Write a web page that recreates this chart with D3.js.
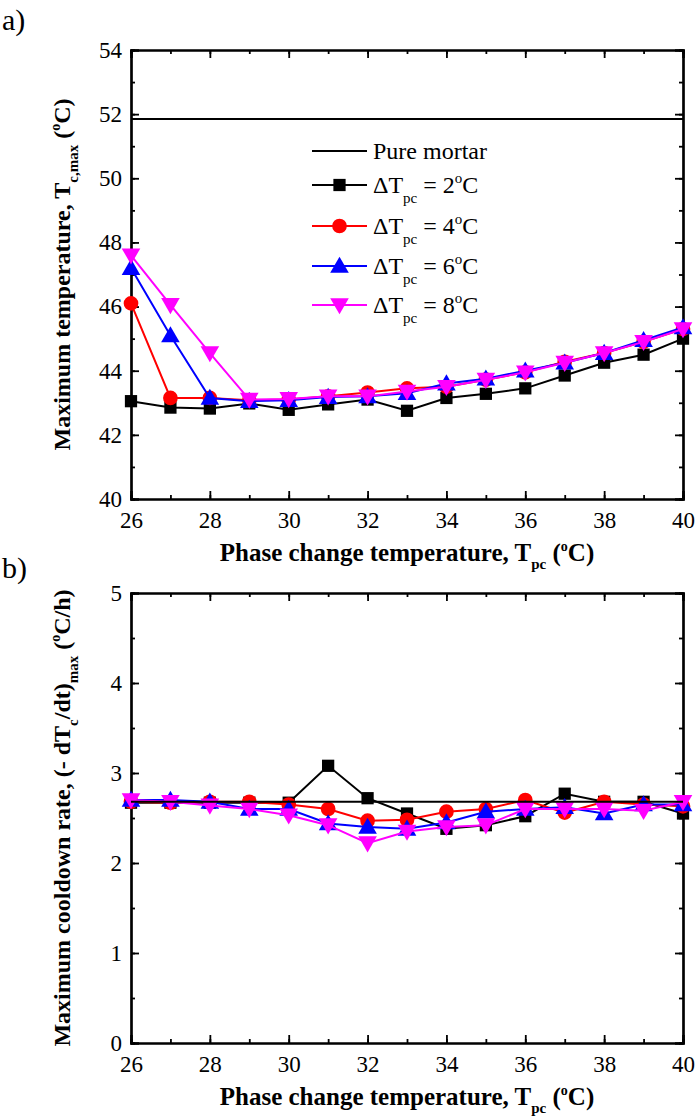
<!DOCTYPE html>
<html>
<head>
<meta charset="utf-8">
<script src="https://cdn.jsdelivr.net/npm/d3@7"></script>
<style>
  body { margin: 0; background: #fff; }
  svg { display: block; }
  text { font-family: "Liberation Serif", "DejaVu Serif", serif; fill: #000; }
</style>
</head>
<body>
<svg id="chart" width="696" height="1119"></svg>
<script>
// ---------- data ---------- //
var tpc = [26, 27, 28, 29, 30, 31, 32, 33, 34, 35, 36, 37, 38, 39, 40];
var xTicks = [26, 28, 30, 32, 34, 36, 38, 40];

// panel a) maximum temperature
var pureTmax = 51.85;
var tmax2 = [43.05, 42.85, 42.82, 42.98, 42.78, 42.95, 43.1, 42.75, 43.15, 43.28, 43.45, 43.85, 44.25, 44.5, 45.0];
var tmax4 = [46.1, 43.15, 43.15, 43.08, 43.1, 43.2, 43.32, 43.45, 43.5, 43.72, 43.95, 44.28, 44.55, 44.9, 45.3];
var tmax6 = [47.2, 45.1, 43.15, 43.05, 43.08, 43.18, 43.2, 43.3, 43.6, 43.75, 44.0, 44.25, 44.55, 44.95, 45.35];
var tmax8 = [47.6, 46.05, 44.55, 43.1, 43.12, 43.2, 43.2, 43.35, 43.5, 43.72, 43.95, 44.25, 44.55, 44.9, 45.3];
var tmaxTicks = [40, 42, 44, 46, 48, 50, 52, 54];

// panel b) maximum cooldown rate
var pureRate = 2.68;
var rate2 = [2.67, 2.67, 2.67, 2.67, 2.67, 3.08, 2.72, 2.55, 2.38, 2.42, 2.52, 2.77, 2.68, 2.68, 2.55];
var rate4 = [2.68, 2.67, 2.68, 2.68, 2.65, 2.6, 2.47, 2.48, 2.57, 2.6, 2.7, 2.56, 2.68, 2.65, 2.63];
var rate6 = [2.7, 2.7, 2.68, 2.6, 2.6, 2.44, 2.4, 2.38, 2.45, 2.57, 2.6, 2.62, 2.55, 2.65, 2.65];
var rate8 = [2.7, 2.68, 2.64, 2.6, 2.53, 2.42, 2.22, 2.35, 2.4, 2.42, 2.6, 2.6, 2.6, 2.58, 2.68];
var rateTicks = [0, 1, 2, 3, 4, 5];

var seriesNames = ["2", "4", "6", "8"];
var seriesColors = ["#000000", "#ff0000", "#0000ff", "#ff00ff"];
var seriesSymbols = [d3.symbolSquare, d3.symbolCircle, d3.symbolTriangle, d3.symbolTriangle];
var symbolSizes = [150, 170, 150, 150];
var symbolRotate = [0, 0, 0, 180];

var svg = d3.select("#chart");

var left = 131, right = 683;
var x = d3.scaleLinear().domain([26, 40]).range([left, right]);

// draws one panel
function drawPanel(cfg) {
	var y = d3.scaleLinear().domain(cfg.domain).range([cfg.bottom, cfg.top]);
	var g = svg.append("g");

	// minor ticks
	var xMinor = d3.range(26, 40.01, 1);
	var yMinor = d3.range(cfg.domain[0], cfg.domain[1] + 0.001, cfg.minor);

	// axes (ticks inward, mirrored)
	g.append("g").attr("transform", "translate(0," + cfg.bottom + ")")
		.call(d3.axisBottom(x).tickValues(xMinor).tickSize(-4).tickFormat(""));
	g.append("g").attr("transform", "translate(0," + cfg.bottom + ")")
		.call(d3.axisBottom(x).tickValues(xTicks).tickSize(-8).tickPadding(13).tickFormat(d3.format("d")));
	g.append("g").attr("transform", "translate(0," + cfg.top + ")")
		.call(d3.axisTop(x).tickValues(xMinor).tickSize(-4).tickFormat(""));
	g.append("g").attr("transform", "translate(0," + cfg.top + ")")
		.call(d3.axisTop(x).tickValues(xTicks).tickSize(-8).tickFormat(""));

	g.append("g").attr("transform", "translate(" + left + ",0)")
		.call(d3.axisLeft(y).tickValues(yMinor).tickSize(-4).tickFormat(""));
	g.append("g").attr("transform", "translate(" + left + ",0)")
		.call(d3.axisLeft(y).tickValues(cfg.ticks).tickSize(-8).tickPadding(9).tickFormat(d3.format("d")));
	g.append("g").attr("transform", "translate(" + right + ",0)")
		.call(d3.axisRight(y).tickValues(yMinor).tickSize(-4).tickFormat(""));
	g.append("g").attr("transform", "translate(" + right + ",0)")
		.call(d3.axisRight(y).tickValues(cfg.ticks).tickSize(-8).tickFormat(""));

	g.selectAll(".domain").attr("stroke", "#000").attr("stroke-width", 2.2);
	g.selectAll(".tick line").attr("stroke", "#000").attr("stroke-width", 1.8);
	g.selectAll(".tick text")
		.style("font-family", "Liberation Serif")
		.style("font-size", "23px")
		.attr("fill", "#000");

	var line = d3.line()
		.x(function(d, i) { return x(tpc[i]); })
		.y(function(d) { return y(d); });

	// data series
	cfg.series.forEach(function(vals, k) {
		g.append("path")
			.datum(vals)
			.attr("d", line)
			.attr("fill", "none")
			.attr("stroke", seriesColors[k])
			.attr("stroke-width", 2);
		g.selectAll(null)
			.data(vals)
			.enter().append("path")
			.attr("d", d3.symbol().type(seriesSymbols[k]).size(symbolSizes[k]))
			.attr("transform", function(d, i) {
				var off = seriesSymbols[k] === d3.symbolTriangle ? (symbolRotate[k] ? -1.5 : 1.5) : 0;
				return "translate(" + x(tpc[i]) + "," + (y(d) + off) + ") rotate(" + symbolRotate[k] + ")";
			})
			.attr("fill", seriesColors[k]);
	});

	// pure mortar reference
	g.append("line")
		.attr("x1", x(26)).attr("x2", x(40))
		.attr("y1", y(cfg.pure)).attr("y2", y(cfg.pure))
		.attr("stroke", "#000")
		.attr("stroke-width", 2);

	// x title
	var xt = g.append("text")
		.attr("x", (left + right) / 2)
		.attr("y", cfg.bottom + 62)
		.attr("text-anchor", "middle")
		.attr("font-size", "25px")
		.attr("font-weight", "bold");
	xt.append("tspan").text("Phase change temperature, T");
	xt.append("tspan").attr("font-size", "15px").attr("dy", 8).text("pc");
	xt.append("tspan").attr("dy", -8).text(" (");
	xt.append("tspan").attr("font-size", "14px").attr("dy", -10).text("o");
	xt.append("tspan").attr("dy", 10).text("C)");

	// y title
	var yt = g.append("text")
		.attr("transform", "translate(" + 70 + "," + ((cfg.top + cfg.bottom) / 2) + ") rotate(-90)")
		.attr("text-anchor", "middle")
		.attr("font-size", "24px")
		.attr("font-weight", "bold");
	cfg.yTitle(yt);

	// panel label
	svg.append("text")
		.attr("x", 2)
		.attr("y", cfg.labelY)
		.attr("font-size", "30px")
		.text(cfg.label);
}

drawPanel({
	domain: [40, 54], top: 50, bottom: 499, minor: 1,
	ticks: tmaxTicks, pure: pureTmax,
	series: [tmax2, tmax4, tmax6, tmax8],
	label: "a)", labelY: 30,
	yTitle: function(t) {
		t.append("tspan").text("Maximum temperature, T");
		t.append("tspan").attr("font-size", "15px").attr("dy", 8).text("c,max");
		t.append("tspan").attr("dy", -8).text(" (");
		t.append("tspan").attr("font-size", "14px").attr("dy", -10).text("o");
		t.append("tspan").attr("dy", 10).text("C)");
	}
});

drawPanel({
	domain: [0, 5], top: 593, bottom: 1043, minor: 0.5,
	ticks: rateTicks, pure: pureRate,
	series: [rate2, rate4, rate6, rate8],
	label: "b)", labelY: 578,
	yTitle: function(t) {
		t.append("tspan").text("Maximum cooldown rate, (- dT");
		t.append("tspan").attr("font-size", "15px").attr("dy", 8).text("c");
		t.append("tspan").attr("dy", -8).text("/dt)");
		t.append("tspan").attr("font-size", "15px").attr("dy", 8).text("max");
		t.append("tspan").attr("dy", -8).text(" (");
		t.append("tspan").attr("font-size", "14px").attr("dy", -10).text("o");
		t.append("tspan").attr("dy", 10).text("C/h)");
	}
});

// --- Legend --- //
var legend = svg.append("g");
var legX1 = 312, legX2 = 367, legText = 373;
var legRows = [151, 185, 226, 266, 305];

legend.append("line")
	.attr("x1", legX1).attr("x2", legX2)
	.attr("y1", legRows[0]).attr("y2", legRows[0])
	.attr("stroke", "#000").attr("stroke-width", 2);
legend.append("text")
	.attr("x", legText).attr("y", legRows[0] + 8)
	.attr("font-size", "24px")
	.text("Pure mortar");

seriesNames.forEach(function(name, k) {
	var ry = legRows[k + 1];
	legend.append("line")
		.attr("x1", legX1).attr("x2", legX2)
		.attr("y1", ry).attr("y2", ry)
		.attr("stroke", seriesColors[k]).attr("stroke-width", 2);
	var off = seriesSymbols[k] === d3.symbolTriangle ? (symbolRotate[k] ? -1.5 : 1.5) : 0;
	legend.append("path")
		.attr("d", d3.symbol().type(seriesSymbols[k]).size(symbolSizes[k])())
		.attr("transform", "translate(" + (legX1 + legX2) / 2 + "," + (ry + off) + ") rotate(" + symbolRotate[k] + ")")
		.attr("fill", seriesColors[k]);
	var t = legend.append("text")
		.attr("x", legText).attr("y", ry + 8)
		.attr("font-size", "24px");
	t.append("tspan").text("\u0394T");
	t.append("tspan").attr("font-size", "15px").attr("dy", 10).text("pc");
	t.append("tspan").attr("dy", -10).text(" = " + name);
	t.append("tspan").attr("font-size", "15px").attr("dy", -10).text("o");
	t.append("tspan").attr("dy", 10).text("C");
});
</script>
</body>
</html>
